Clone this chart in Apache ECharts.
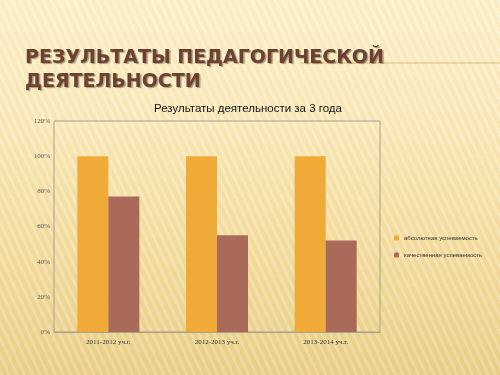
<!DOCTYPE html>
<html><head><meta charset="utf-8">
<script src="https://cdn.jsdelivr.net/npm/echarts@6/dist/echarts.min.js"></script>
<style>
html,body{margin:0;padding:0;}
body{width:500px;height:375px;overflow:hidden;
background:
 repeating-linear-gradient(65deg, rgba(255,255,255,0.18) 0px, rgba(255,255,255,0.18) 3px, rgba(200,160,60,0.06) 3px, rgba(200,160,60,0.06) 7px),
 linear-gradient(180deg,#fdf2cc 0%,#fbebbd 30%,#f4dea2 65%,#ead08a 100%);}
#c{width:500px;height:375px;}
</style></head><body>
<div id="c"></div>
<script>
var categories = ['2011-2012 уч.г.', '2012-2013 уч.г.', '2013-2014 уч.г.'];
var seriesNames = ['абсолютная успеваемость', 'качественная успеваемость'];
var absolute = [100, 100, 100];
var quality = [77, 55, 52];
var yTicks = [0, 20, 40, 60, 80, 100, 120];

var chart = echarts.init(document.getElementById('c'), null, {renderer:'canvas'});
chart.setOption({
  backgroundColor: 'transparent',
  animation: false,
  title: [{
    text: 'РЕЗУЛЬТАТЫ ПЕДАГОГИЧЕСКОЙ\nДЕЯТЕЛЬНОСТИ',
    left: 20, top: 41,
    textStyle: {fontFamily: 'DejaVu Sans', fontSize: 19, fontWeight: 'bold', color: '#6e4030', lineHeight: 24,
      textShadowColor: 'rgba(0,0,0,0.35)', textShadowOffsetX: 1.5, textShadowOffsetY: 1.5, textShadowBlur: 1}
  },{
    text: 'Результаты деятельности за 3 года',
    left: 149, top: 98,
    textStyle: {fontFamily: 'Liberation Sans', fontSize: 11.5, fontWeight: 'normal', color: '#111'}
  }],
  graphic: [{type:'line', shape:{x1:300,y1:63,x2:500,y2:63}, style:{stroke:'rgba(190,150,60,0.5)', lineWidth:1}}],
  legend: {
    orient: 'vertical', left: 389, top: 230, itemWidth: 5, itemHeight: 5, itemGap: 11,
    textStyle: {fontFamily: 'Liberation Sans', fontSize: 6, color: '#333'},
    data: seriesNames
  },
  grid: {left: 54, top: 121, right: 120, bottom: 43, show: true, borderColor: '#a9a08a', borderWidth: 1},
  xAxis: {
    type: 'category', data: categories,
    axisLine: {lineStyle: {color: '#a9a08a'}}, axisTick: {show: false},
    axisLabel: {fontFamily: 'Liberation Serif', fontSize: 7, color: '#333', margin: 7}
  },
  yAxis: {
    type: 'value', min: 0, max: 120, interval: 20,
    splitLine: {show: false}, axisLine: {show: false}, axisTick: {show: false},
    axisLabel: {formatter: '{value}%', fontFamily: 'Liberation Serif', fontSize: 7, color: '#555', margin: 4}
  },
  series: [{
    name: seriesNames[0], type: 'bar', data: absolute, barWidth: 31, barGap: '0%',
    itemStyle: {color: '#efaa38'}
  },{
    name: seriesNames[1], type: 'bar', data: quality, barWidth: 31,
    itemStyle: {color: '#a96a5a'}
  }]
});
</script></body></html>
